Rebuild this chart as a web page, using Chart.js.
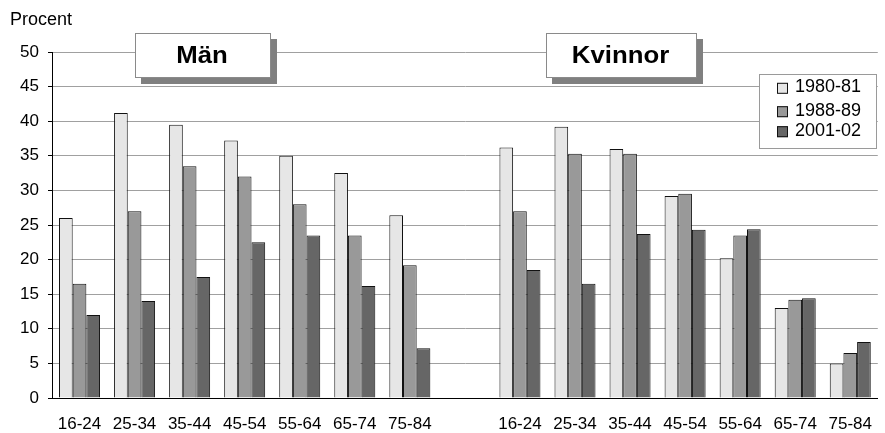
<!DOCTYPE html>
<html>
<head>
<meta charset="utf-8">
<script src="https://cdn.jsdelivr.net/npm/chart.js@4"></script>
<style>
  html, body { margin: 0; padding: 0; overflow: hidden; background: #fff; }
  #wrap { position: relative; width: 888px; height: 433px; }
</style>
</head>
<body>
<div id="wrap"><canvas id="chart"></canvas></div>
<script>
// Age groups, shown once for men and once for women with an empty slot between
const ageGroups = ['16-24', '25-34', '35-44', '45-54', '55-64', '65-74', '75-84'];
const categories = [...ageGroups, '', ...ageGroups];

const periods = ['1980-81', '1988-89', '2001-02'];
const periodColors = ['#e6e6e6', '#999999', '#666666'];

// Percent per age group, men
const men1980 = [26.0, 41.2, 39.5, 37.2, 35.0, 32.5, 26.4];
const men1988 = [16.5, 27.0, 33.5, 32.0, 28.0, 23.5, 19.2];
const men2001 = [12.0, 14.0, 17.5, 22.5, 23.5, 16.2, 7.2];

// Percent per age group, women
const women1980 = [36.2, 39.2, 36.0, 29.2, 20.2, 13.0, 5.0];
const women1988 = [27.0, 35.3, 35.3, 29.5, 23.5, 14.2, 6.5];
const women2001 = [18.5, 16.5, 23.7, 24.3, 24.4, 14.4, 8.1];

const yMin = 0, yMax = 50, yStep = 5;
const yAxisTitle = 'Procent';
const panelTitles = ['Män', 'Kvinnor'];

const FONT = 'Arial, "Liberation Sans", sans-serif';

const seriesMen = [men1980, men1988, men2001];
const seriesWomen = [women1980, women1988, women2001];

const datasets = periods.map((label, i) => ({
  label,
  data: [...seriesMen[i], null, ...seriesWomen[i]],
  backgroundColor: periodColors[i],
  borderColor: '#111',
  borderWidth: 1,
  borderSkipped: 'start',
  categoryPercentage: 0.745,
  barPercentage: 1.0
}));

// Boxed panel titles, axis caption and the framed legend
const decorations = {
  id: 'decorations',
  afterDraw(chart) {
    const ctx = chart.ctx;
    ctx.save();

    // axis caption
    ctx.fillStyle = '#000';
    ctx.font = `18px ${FONT}`;
    ctx.textAlign = 'left';
    ctx.textBaseline = 'alphabetic';
    ctx.fillText(yAxisTitle, 10, 25);

    // panel title boxes with drop shadow
    const boxes = [
      { x: 135, y: 33, w: 136, h: 45, text: panelTitles[0] },
      { x: 546, y: 33, w: 151, h: 45, text: panelTitles[1] }
    ];
    boxes.forEach(b => {
      ctx.fillStyle = '#808080';
      ctx.fillRect(b.x + 6, b.y + 6, b.w, b.h);
      ctx.fillStyle = '#fff';
      ctx.fillRect(b.x, b.y, b.w, b.h);
      ctx.strokeStyle = '#8a8a8a';
      ctx.lineWidth = 1;
      ctx.strokeRect(b.x + 0.5, b.y + 0.5, b.w - 1, b.h - 1);
      ctx.save();
      ctx.translate(b.x + b.w / 2 - 1, b.y + 29.5);
      ctx.scale(1.12, 1);
      ctx.fillStyle = '#000';
      ctx.font = `bold 23px ${FONT}`;
      ctx.textAlign = 'center';
      ctx.textBaseline = 'alphabetic';
      ctx.fillText(b.text, 0, 0);
      ctx.restore();
    });

    // legend
    const lg = { x: 759, y: 74, w: 118, h: 75 };
    ctx.fillStyle = '#fff';
    ctx.fillRect(lg.x, lg.y, lg.w, lg.h);
    ctx.strokeStyle = '#9a9a9a';
    ctx.strokeRect(lg.x + 0.5, lg.y + 0.5, lg.w - 1, lg.h - 1);
    const baselines = [92.3, 115.7, 135.7];
    ctx.font = `18px ${FONT}`;
    ctx.textAlign = 'left';
    ctx.textBaseline = 'alphabetic';
    chart.data.datasets.forEach((ds, i) => {
      const by = baselines[i];
      ctx.fillStyle = ds.backgroundColor;
      ctx.fillRect(777, by - 9.5, 11, 11);
      ctx.strokeStyle = '#111';
      ctx.strokeRect(777.5, by - 9, 10, 10);
      ctx.fillStyle = '#000';
      ctx.fillText(ds.label, 795, by);
    });

    ctx.restore();
  }
};

new Chart(document.getElementById('chart'), {
  type: 'bar',
  data: { labels: categories, datasets },
  options: {
    responsive: true,
    maintainAspectRatio: false,
    animation: false,
    events: [],
    layout: { padding: { top: 52, left: 0, right: 0, bottom: 0 } },
    plugins: {
      legend: { display: false },
      tooltip: { enabled: false }
    },
    scales: {
      x: {
        grid: { display: false, drawTicks: false },
        border: { display: true, color: '#000', width: 1 },
        ticks: {
          color: '#000',
          font: { family: FONT, size: 17 },
          padding: 16,
          maxRotation: 0,
          autoSkip: false
        },
        afterFit(scale) { scale.height = 35; }
      },
      y: {
        min: yMin,
        max: yMax,
        grid: { color: '#a0a0a0', lineWidth: 1, tickColor: '#000', tickLength: 4, drawTicks: true },
        border: { display: true, color: '#000', width: 1 },
        ticks: {
          stepSize: yStep,
          color: '#000',
          font: { family: FONT, size: 17 },
          padding: 9
        },
        afterFit(scale) { scale.width = 52; }
      }
    }
  },
  plugins: [decorations]
});
</script>
</body>
</html>
